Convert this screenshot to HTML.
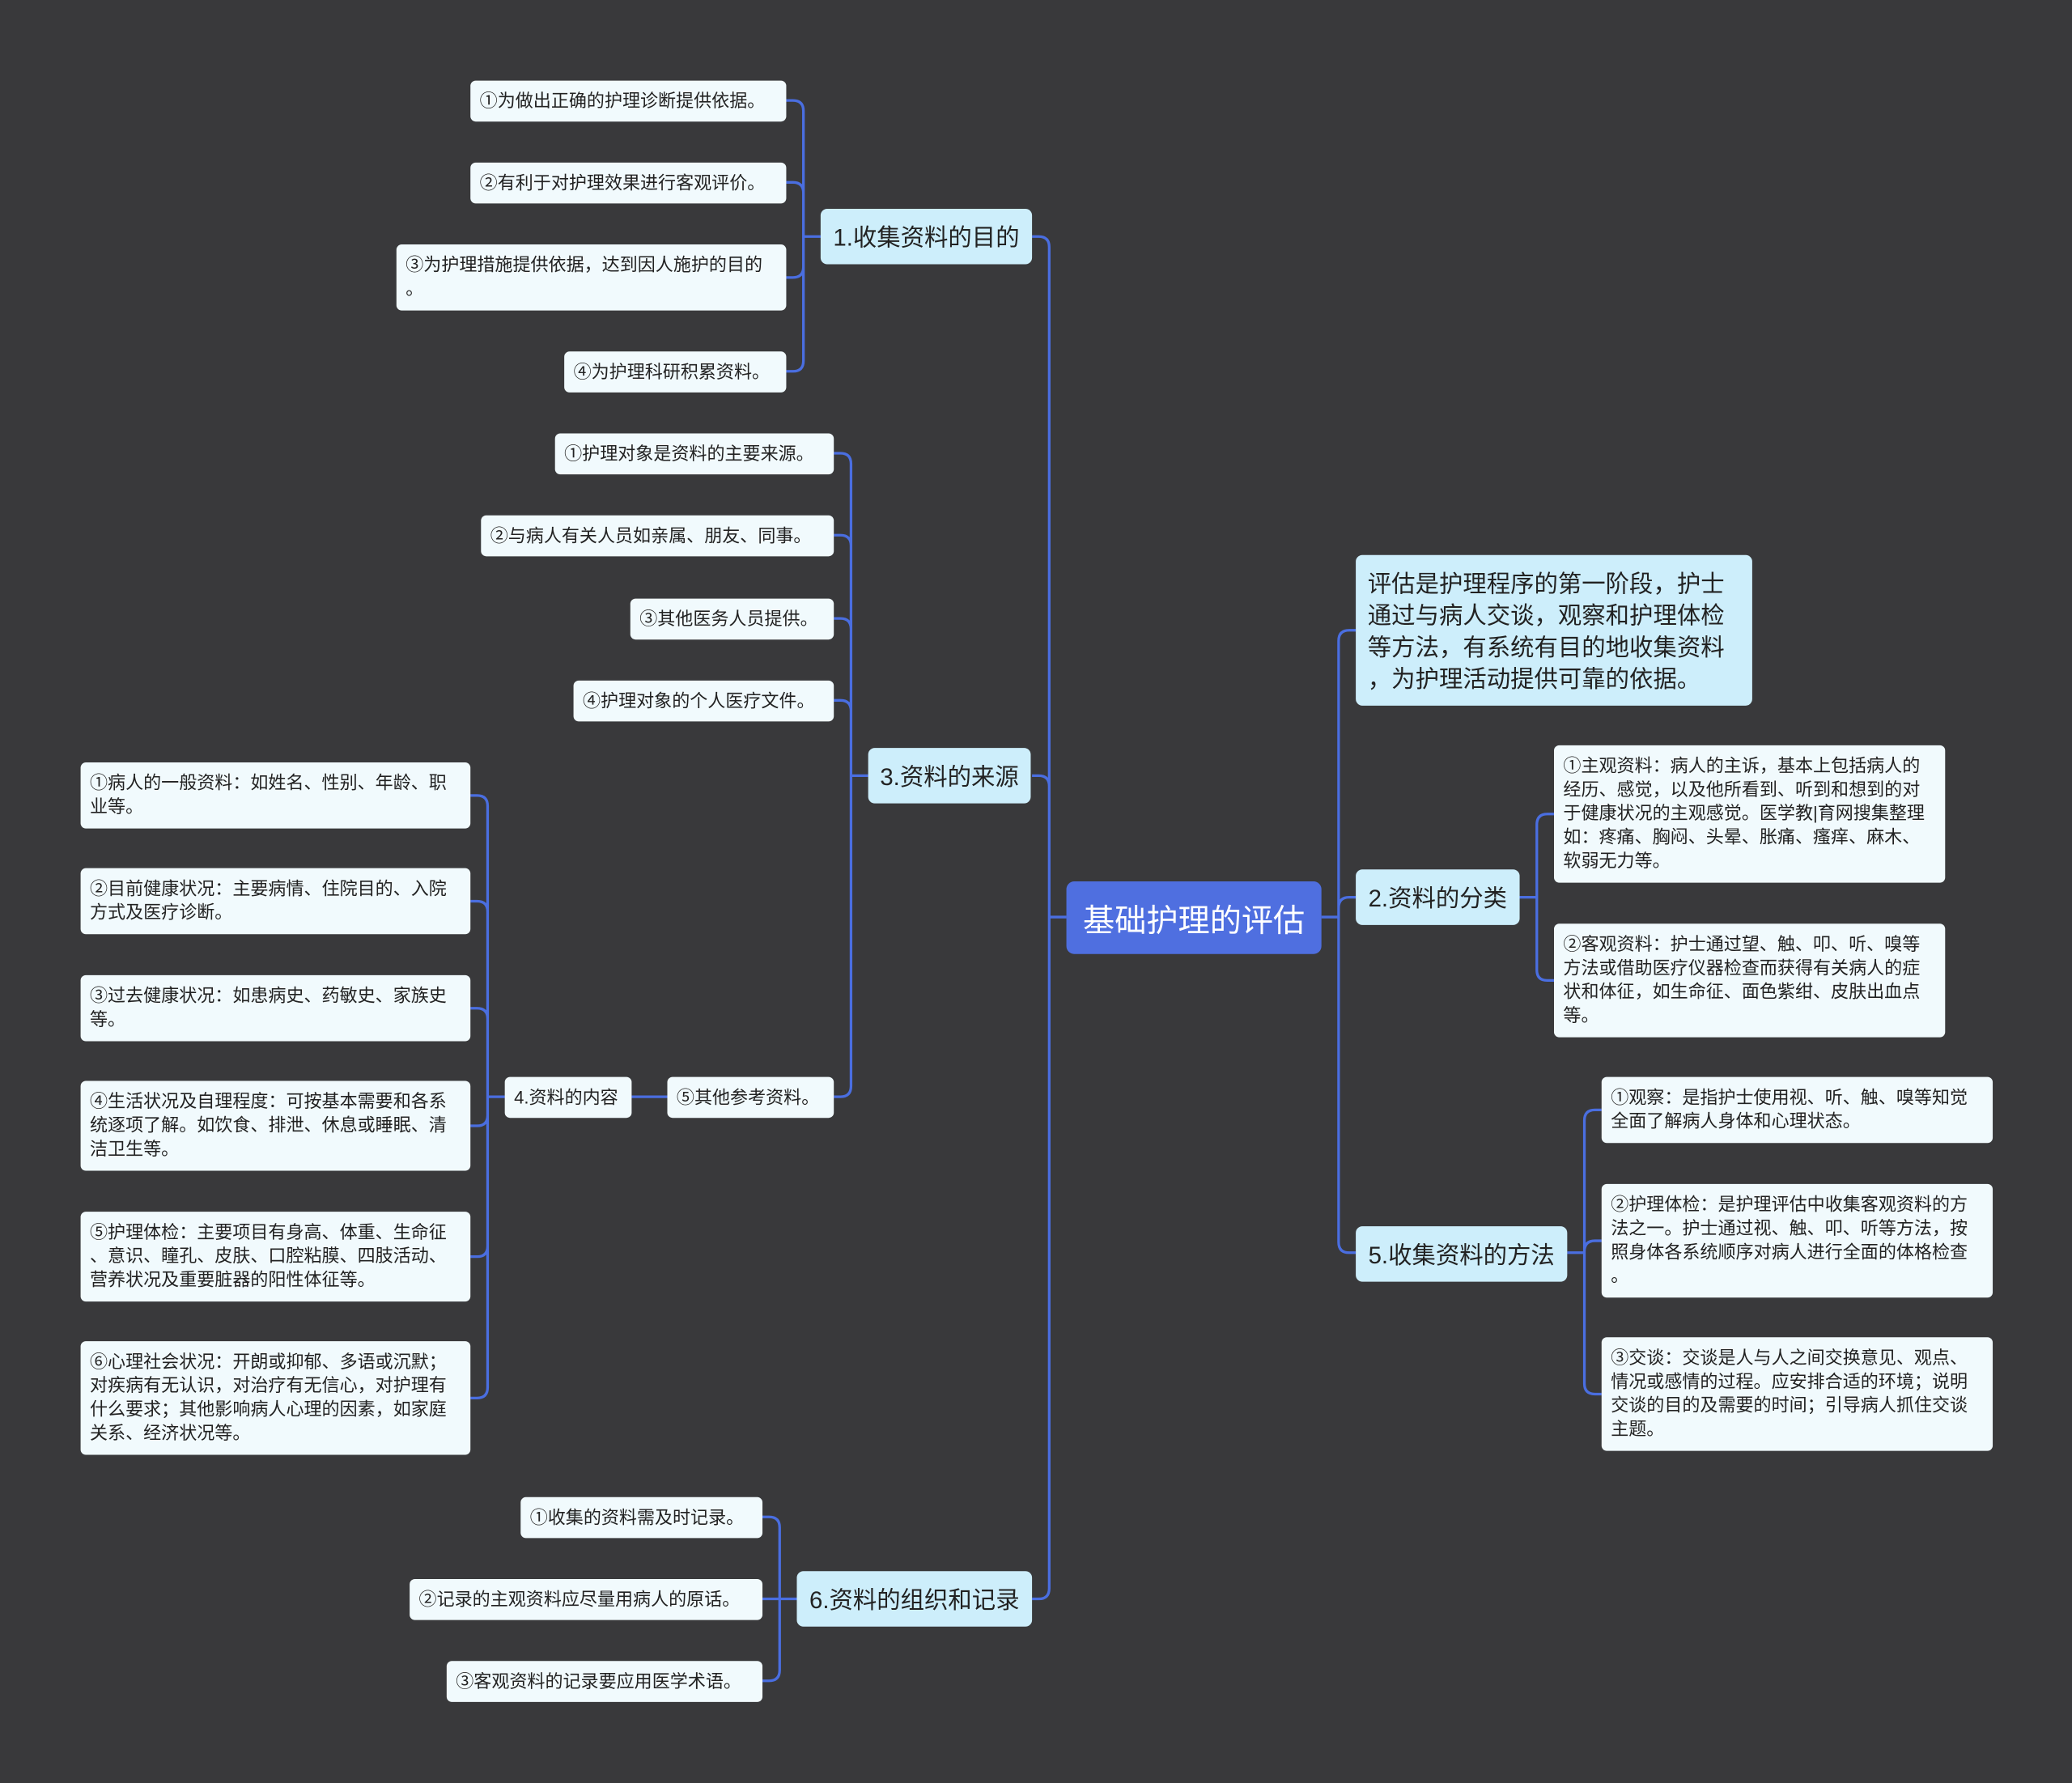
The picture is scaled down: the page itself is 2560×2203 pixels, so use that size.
<!DOCTYPE html>
<html><head><meta charset="utf-8"><style>
html,body{margin:0;padding:0;background:#39393b;}
#wrap{width:1568px;height:1349px;position:relative;transform:scale(1.632653);transform-origin:0 0;font-family:"Liberation Sans","Noto Sans CJK SC",sans-serif;}
.n{position:absolute;box-sizing:border-box;border-radius:4px;color:#222;line-break:anywhere;word-break:break-all;}
.leaf{background:#f1fafd;font-size:13.5px;line-height:18px;padding:7px 6px 6px 7px;}
.s{display:flex;align-items:center;padding-top:6px;}
.l1{background:#cdeefb;font-size:18px;display:flex;align-items:center;justify-content:center;border-radius:5px;}
.root{background:#4f6fe0;color:#fff;font-size:24px;display:flex;align-items:center;justify-content:center;border-radius:6px;}
svg{position:absolute;left:0;top:0;}
</style></head><body><div id="wrap">
<svg id="lines" width="1568" height="1349"></svg>
<div class="n root" style="left:807px;top:667px;width:193px;height:55px">基础护理的评估</div>
<div class="n l1" style="left:621px;top:158px;width:160px;height:42px">1.收集资料的目的</div>
<div class="n l1" style="left:657px;top:566px;width:123px;height:42px">3.资料的来源</div>
<div class="n l1" style="left:603px;top:1189px;width:178px;height:42px">6.资料的组织和记录</div>
<div class="n l1" style="left:1026px;top:420px;width:300px;height:114px;font-size:18px;line-height:24px;padding:10px 9px;display:block">评估是护理程序的第一阶段，护士通过与病人交谈，观察和护理体检等方法，有系统有目的地收集资料，为护理活动提供可靠的依据。</div>
<div class="n l1" style="left:1026px;top:658px;width:124px;height:42px">2.资料的分类</div>
<div class="n l1" style="left:1026px;top:928px;width:160px;height:42px">5.收集资料的方法</div>

<div class="n leaf s" style="left:356px;top:61px;width:239px;height:31px">①为做出正确的护理诊断提供依据。</div>
<div class="n leaf s" style="left:356px;top:123px;width:239px;height:31px">②有利于对护理效果进行客观评价。</div>
<div class="n leaf" style="left:300px;top:185px;width:295px;height:50px">③为护理措施提供依据，达到因人施护的目的。</div>
<div class="n leaf s" style="left:427px;top:266px;width:168px;height:31px">④为护理科研积累资料。</div>

<div class="n leaf s" style="left:420px;top:328px;width:211px;height:31px">①护理对象是资料的主要来源。</div>
<div class="n leaf s" style="left:364px;top:390px;width:267px;height:31px">②与病人有关人员如亲属、朋友、同事。</div>
<div class="n leaf s" style="left:477px;top:453px;width:154px;height:31px">③其他医务人员提供。</div>
<div class="n leaf s" style="left:434px;top:515px;width:197px;height:31px">④护理对象的个人医疗文件。</div>
<div class="n leaf s" style="left:505px;top:815px;width:126px;height:31px">⑤其他参考资料。</div>
<div class="n leaf s" style="left:382px;top:815px;width:96px;height:31px">4.资料的内容</div>

<div class="n leaf" style="left:61px;top:577px;width:295px;height:50px">①病人的一般资料：如姓名、性别、年龄、职业等。</div>
<div class="n leaf" style="left:61px;top:657px;width:295px;height:50px">②目前健康状况：主要病情、住院目的、入院方式及医疗诊断。</div>
<div class="n leaf" style="left:61px;top:738px;width:295px;height:50px">③过去健康状况：如患病史、药敏史、家族史等。</div>
<div class="n leaf" style="left:61px;top:818px;width:295px;height:68px">④生活状况及自理程度：可按基本需要和各系统逐项了解。如饮食、排泄、休息或睡眠、清洁卫生等。</div>
<div class="n leaf" style="left:61px;top:917px;width:295px;height:68px">⑤护理体检：主要项目有身高、体重、生命征、意识、瞳孔、皮肤、口腔粘膜、四肢活动、营养状况及重要脏器的阳性体征等。</div>
<div class="n leaf" style="left:61px;top:1015px;width:295px;height:86px">⑥心理社会状况：开朗或抑郁、多语或沉默；对疾病有无认识，对治疗有无信心，对护理有什么要求；其他影响病人心理的因素，如家庭关系、经济状况等。</div>

<div class="n leaf s" style="left:394px;top:1133px;width:183px;height:31px">①收集的资料需及时记录。</div>
<div class="n leaf s" style="left:310px;top:1195px;width:267px;height:31px">②记录的主观资料应尽量用病人的原话。</div>
<div class="n leaf s" style="left:338px;top:1257px;width:239px;height:31px">③客观资料的记录要应用医学术语。</div>

<div class="n leaf" style="left:1176px;top:564px;width:296px;height:104px">①主观资料：病人的主诉，基本上包括病人的经历、感觉，以及他所看到、听到和想到的对于健康状况的主观感觉。医学教|育网搜集整理如：疼痛、胸闷、头晕、胀痛、瘙痒、麻木、软弱无力等。</div>
<div class="n leaf" style="left:1176px;top:699px;width:296px;height:86px">②客观资料：护士通过望、触、叩、听、嗅等方法或借助医疗仪器检查而获得有关病人的症状和体征，如生命征、面色紫绀、皮肤出血点等。</div>

<div class="n leaf" style="left:1212px;top:815px;width:296px;height:50px">①观察：是指护士使用视、听、触、嗅等知觉全面了解病人身体和心理状态。</div>
<div class="n leaf" style="left:1212px;top:896px;width:296px;height:86px">②护理体检：是护理评估中收集客观资料的方法之一。护士通过视、触、叩、听等方法，按照身体各系统顺序对病人进行全面的体格检查。</div>
<div class="n leaf" style="left:1212px;top:1012px;width:296px;height:86px">③交谈：交谈是人与人之间交换意见、观点、情况或感情的过程。应安排合适的环境；说明交谈的目的及需要的时间；引导病人抓住交谈主题。</div>
</div>
<script>
var d='';
function g(px,py,jx,cx,cys){
 d+='M'+px+' '+py+'H'+jx;
 cys.forEach(function(cy){
  var r=8,s=cx>jx?1:-1;
  if(Math.abs(cy-py)<r){d+='M'+jx+' '+py+'V'+cy+'H'+cx;return;}
  var v=cy>py?1:-1;
  d+='M'+jx+' '+py+'V'+(cy-v*r)+'Q'+jx+' '+cy+' '+(jx+s*r)+' '+cy+'H'+cx;
 });
}
g(807,694,794,781,[179,587,1210]);
g(1000,694,1013,1026,[477,679,948]);
g(621,179,608,595,[76,138,210,281]);
g(657,587,644,631,[343,405,468,530,830]);
g(505,830,492,478,[830]);
g(382,830,369,356,[602,682,763,852,951,1058]);
g(603,1210,590,577,[1148,1210,1272]);
g(1150,679,1163,1176,[616,742]);
g(1186,948,1199,1212,[840,939,1055]);
document.getElementById('lines').innerHTML='<path d="'+d+'" fill="none" stroke="#4a6ee0" stroke-width="2"/>';
</script>
</body></html>
